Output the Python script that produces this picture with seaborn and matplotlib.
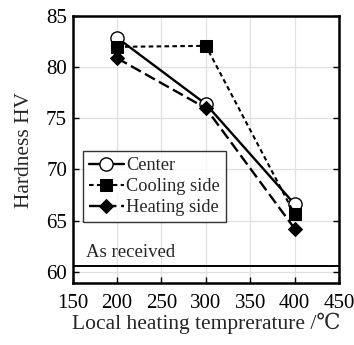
import matplotlib
matplotlib.use("Agg")
import matplotlib.pyplot as plt
import seaborn as sns
import pandas as pd

temps = [200, 300, 400]
center = [82.9, 76.4, 66.6]
cooling = [82.0, 82.1, 65.6]
heating = [80.9, 76.0, 64.2]
as_received = 60.6
xticks = [150, 200, 250, 300, 350, 400, 450]
yticks = [60, 65, 70, 75, 80, 85]

sns.set_style("white")
plt.rcParams['font.family'] = ['Liberation Serif', 'DejaVu Serif']
plt.rcParams['mathtext.fontset'] = 'stix'

fig = plt.figure(figsize=(3.54, 3.45), dpi=100)
ax = fig.add_axes([0.205, 0.18, 0.753, 0.773])

df_c = pd.DataFrame({"x": temps, "y": center})
df_k = pd.DataFrame({"x": temps, "y": cooling})
df_h = pd.DataFrame({"x": temps, "y": heating})

sns.lineplot(data=df_c, x="x", y="y", ax=ax, color="black", lw=1.7, linestyle="-",
             marker="o", markersize=9.5, markerfacecolor="white", markeredgecolor="black",
             markeredgewidth=1.0, label="Center", zorder=3)
sns.lineplot(data=df_k, x="x", y="y", ax=ax, color="black", lw=1.5, linestyle=(0, (2.2, 1.6)),
             marker="s", markersize=9, markerfacecolor="black", markeredgecolor="black",
             label="Cooling side", zorder=4)
sns.lineplot(data=df_h, x="x", y="y", ax=ax, color="black", lw=1.7, linestyle=(0, (4.8, 2.0)),
             marker="D", markersize=7.5, markerfacecolor="black", markeredgecolor="black",
             label="Heating side", zorder=5)

ax.axhline(as_received, color="black", lw=1.4, zorder=2)
ax.text(165, as_received + 0.4, "As received", fontsize=13.5, ha="left", va="bottom")

ax.set_xlim(150, 450)
ax.set_ylim(58.9, 85)
ax.set_xticks(xticks)
ax.set_yticks(yticks)
ax.grid(True, color="#e0e0e0", lw=0.9)
ax.set_axisbelow(True)
ax.tick_params(direction="in", length=4, width=1, labelsize=15, colors="black",
               top=False, right=True, left=True, bottom=True)
ax.tick_params(axis="x", pad=8)
ax.tick_params(axis="y", pad=4)
for s in ax.spines.values():
    s.set_color("black")
    s.set_linewidth(1.8)

ax.set_xlabel("Local heating temprerature /℃", fontsize=15.5, labelpad=0)
ax.set_ylabel("Hardness HV", fontsize=15.5, labelpad=9)

leg = ax.legend(loc="lower left", bbox_to_anchor=(0.04, 0.23), fontsize=13.2,
                frameon=True, fancybox=False, edgecolor="black", handlelength=1.9,
                handletextpad=0.15, borderpad=0.3, labelspacing=0.22, borderaxespad=0)
leg.get_frame().set_linewidth(1.0)

fig.savefig("out.png", dpi=100)
